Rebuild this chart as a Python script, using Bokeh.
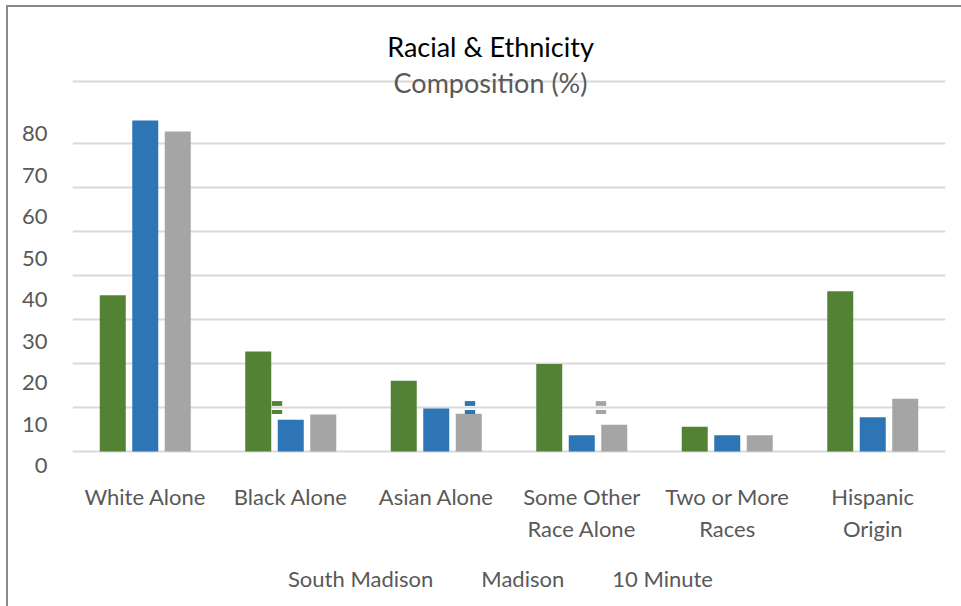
from bokeh.plotting import figure
from bokeh.layouts import column
from bokeh.models import (ColumnDataSource, FactorRange, Range1d, LinearAxis,
                          FixedTicker, Legend, LegendItem, Label)
from bokeh.transform import dodge
from bokeh.embed import file_html
from bokeh.resources import INLINE

# ---------------- data ----------------
categories = ["White Alone", "Black Alone", "Asian Alone",
              "Some Other\nRace Alone", "Two or More\nRaces", "Hispanic\nOrigin"]
series = ["South Madison", "Madison", "10 Minute"]
south_madison = [35.5, 22.7, 16.1, 19.9, 5.6, 36.4]
madison = [75.2, 7.2, 9.8, 3.7, 3.7, 7.8]
ten_minute = [72.7, 8.4, 8.6, 6.1, 3.7, 12.0]
grid_ticks = [0, 10, 20, 30, 40, 50, 60, 70, 84]
label_ticks = [0, 10, 20, 30, 40, 50, 60, 70, 80]
title_lines = ["Racial & Ethnicity", "Composition (%)"]

colors = ["#548235", "#2E75B6", "#A5A5A5"]
FONT = "Lato"
TXT = "#595959"

# ---------------- layout (page pixels) ----------------
PAGE_W, PAGE_H = 961, 606
OX, OY = 8, 7                       # canvas origin on the page (after border)
W = PAGE_W - OX
H1 = 545                            # main chart canvas height
H2 = PAGE_H - OY - H1               # legend strip height
F_LEFT, F_RIGHT, F_TOP, F_BOTTOM = 72, 945, 20, 470
ZERO_PX, PX_PER_UNIT = 451, 4.4           # bars / gridlines
LAB_ZERO_PX, LAB_PX_PER_UNIT = 465, 4.15  # tick labels

y0 = -(F_BOTTOM - ZERO_PX) / PX_PER_UNIT
y1 = (ZERO_PX - F_TOP) / PX_PER_UNIT
ly0 = -(F_BOTTOM - LAB_ZERO_PX) / LAB_PX_PER_UNIT
ly1 = (LAB_ZERO_PX - F_TOP) / LAB_PX_PER_UNIT

src = ColumnDataSource(dict(cat=categories, sm=south_madison, md=madison, tm=ten_minute))

p = figure(width=W, height=H1, x_range=FactorRange(*categories),
           y_range=Range1d(y0, y1), y_axis_location=None,
           output_backend="svg", toolbar_location=None,
           min_border_left=F_LEFT - OX, min_border_right=PAGE_W - F_RIGHT,
           min_border_top=F_TOP - OY, min_border_bottom=H1 + OY - F_BOTTOM)
p.outline_line_color = None
p.background_fill_color = "white"
p.border_fill_color = "white"

p.extra_y_ranges = {"lab": Range1d(ly0, ly1)}

# gridlines
p.xgrid.grid_line_color = None
p.ygrid.ticker = FixedTicker(ticks=grid_ticks)
p.ygrid.grid_line_color = "#D9D9D9"
p.ygrid.grid_line_width = 2

# y tick labels
lab_axis = LinearAxis(y_range_name="lab", ticker=FixedTicker(ticks=label_ticks))
lab_axis.axis_line_color = None
lab_axis.major_tick_line_color = None
lab_axis.minor_tick_line_color = None
lab_axis.major_label_standoff = 19
lab_axis.major_label_text_font = FONT
lab_axis.major_label_text_font_size = "22px"
lab_axis.major_label_text_color = TXT
p.add_layout(lab_axis, "left")

# x axis
xa = p.xaxis[0]
xa.axis_line_color = None
xa.major_tick_line_color = None
xa.minor_tick_line_color = None
xa.major_label_standoff = 6
xa.major_label_text_font = FONT
xa.major_label_text_font_size = "22px"
xa.major_label_text_color = TXT

OFF, BW = 0.2234, 0.1787
cols = ["sm", "md", "tm"]
offs = [-OFF, 0, OFF]
renderers = []
for c, o, col in zip(cols, offs, colors):
    r = p.vbar(x=dodge("cat", o, range=p.x_range), top=c, width=BW, bottom=0,
               source=src, fill_color=col, line_color=None)
    renderers.append(r)

# stray legend swatches inside the plot (each split in two strips, as in the reference)
swatch_left = [270, 463, 594]
for r, sx in zip(renderers, swatch_left):
    for top, gh in [(400, 6), (408.7, 5)]:
        sw = Legend(items=[LegendItem(label=" ", renderers=[r])],
                    location=(sx - F_LEFT, F_BOTTOM - (top + gh)),
                    glyph_width=13, glyph_height=gh, label_standoff=0,
                    label_width=0, label_height=0, spacing=0, padding=0, margin=0,
                    border_line_color=None, background_fill_alpha=0,
                    label_text_font_size="1px", label_text_alpha=0)
        p.add_layout(sw, "center")

# title lines
cx = 490 - F_LEFT
p.add_layout(Label(x=cx, y=F_BOTTOM - 46, x_units="screen", y_units="screen",
                   text=title_lines[0], text_align="center", text_baseline="middle",
                   text_font=FONT, text_font_size="27px", text_color="black"))
p.add_layout(Label(x=cx, y=F_BOTTOM - 82, x_units="screen", y_units="screen",
                   text=title_lines[1], text_align="center", text_baseline="middle",
                   text_font=FONT, text_font_size="27px", text_color=TXT))

# ---------------- legend strip ----------------
p2 = figure(width=W, height=H2, x_range=p.x_range, y_range=Range1d(0, 1),
            x_axis_location=None, y_axis_location=None,
            output_backend="svg", toolbar_location=None,
            min_border_left=F_LEFT - OX, min_border_right=PAGE_W - F_RIGHT,
            min_border_top=0, min_border_bottom=0)
p2.outline_line_color = None
p2.xgrid.grid_line_color = None
p2.ygrid.grid_line_color = None
ghosts = []
for c, o in zip(cols, offs):
    g = p2.vbar(x=dodge("cat", o, range=p.x_range), top=c, width=BW, bottom=0,
                source=src, fill_alpha=0, line_alpha=0)
    ghosts.append(g)
LEG_H = 22
strip_bottom = OY + H1 + H2
lg = Legend(items=[LegendItem(label=s, renderers=[g]) for s, g in zip(series, ghosts)],
            location=(270 - F_LEFT, strip_bottom - (581 + LEG_H / 2)),
            orientation="horizontal", glyph_width=13, glyph_height=14,
            label_standoff=5, spacing=30, padding=0, margin=0,
            border_line_color=None, background_fill_alpha=0,
            label_text_font=FONT, label_text_font_size="22px",
            label_text_color=TXT)
p2.add_layout(lg, "center")

layout = column(p, p2, spacing=0)
layout.styles = {"margin-left": "6px", "margin-top": "5px",
                 "border-left": "2px solid #8a8a8a", "border-top": "2px solid #8a8a8a"}

open("out.html", "w").write(file_html(layout, INLINE))
